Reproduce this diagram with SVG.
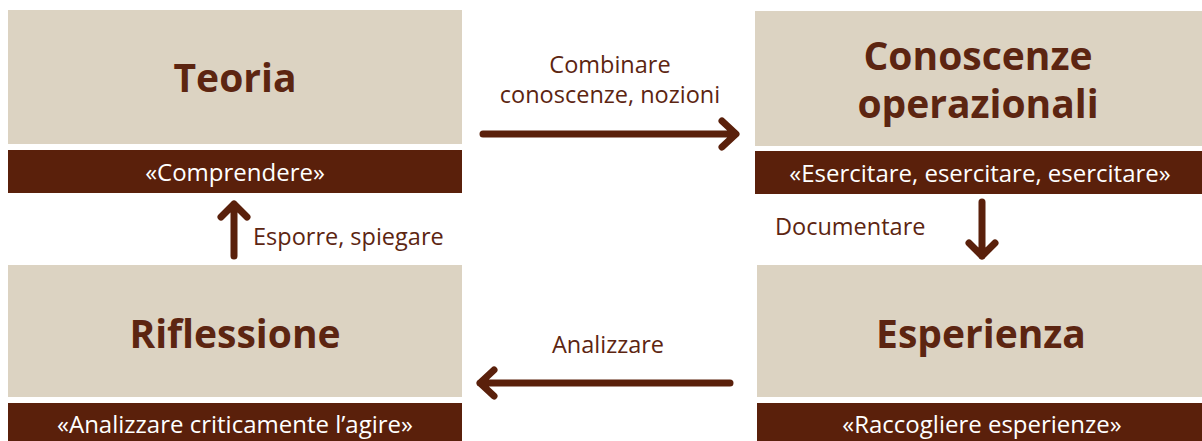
<svg xmlns="http://www.w3.org/2000/svg" width="1202" height="441" viewBox="0 0 1202 441">
<style>
.box{fill:#DCD3C2}
.bar{fill:#5A200B}
.title{font-family:"Open Sans",sans-serif;font-weight:bold;font-size:39px;fill:#5C2511;text-anchor:middle}
.sub{font-family:"Open Sans",sans-serif;font-size:24px;fill:#ffffff;text-anchor:middle}
.lbl{font-family:"Open Sans",sans-serif;font-size:23.5px;fill:#5C2511}
.conn{stroke:#5A200B;stroke-width:7;stroke-linecap:round;stroke-linejoin:round;fill:none}
</style>
<rect width="1202" height="441" fill="#ffffff"/>
<g id="teoria">
<rect class="box" x="8" y="10" width="454" height="134"/>
<text class="title" x="235" y="92">Teoria</text>
<rect class="bar" x="8" y="150" width="454" height="43"/>
<text class="sub" x="235" y="181">«Comprendere»</text>
</g>
<g id="conoscenze">
<rect class="box" x="755" y="11" width="447" height="135"/>
<text class="title" x="978" y="70">Conoscenze</text>
<text class="title" x="978" y="118">operazionali</text>
<rect class="bar" x="755" y="151" width="447" height="43"/>
<text class="sub" x="980" y="182">«Esercitare, esercitare, esercitare»</text>
</g>
<g id="riflessione">
<rect class="box" x="8" y="265" width="454" height="132"/>
<text class="title" x="235" y="348">Riflessione</text>
<rect class="bar" x="8" y="403" width="454" height="38"/>
<text class="sub" x="235" y="433">«Analizzare criticamente l’agire»</text>
</g>
<g id="esperienza">
<rect class="box" x="757" y="265" width="445" height="132"/>
<text class="title" x="981" y="348">Esperienza</text>
<rect class="bar" x="757" y="403" width="445" height="38"/>
<text class="sub" x="982" y="433">«Raccogliere esperienze»</text>
</g>
<g id="connectors">
<path class="conn" d="M483 134 H735 M722 121 L736 134 L722 147"/>
<text class="lbl" x="610" y="73" text-anchor="middle">Combinare</text>
<text class="lbl" x="610" y="103" text-anchor="middle">conoscenze, nozioni</text>
<path class="conn" d="M982 202 V256 M969 243 L982 256 L995 243"/>
<text class="lbl" x="775" y="235">Documentare</text>
<path class="conn" d="M730 383 H480 M494 370 L480 383 L494 396"/>
<text class="lbl" x="608" y="353" text-anchor="middle">Analizzare</text>
<path class="conn" d="M234 256 V204 M221 217 L234 204 L247 217"/>
<text class="lbl" x="253" y="245">Esporre, spiegare</text>
</g>
</svg>
